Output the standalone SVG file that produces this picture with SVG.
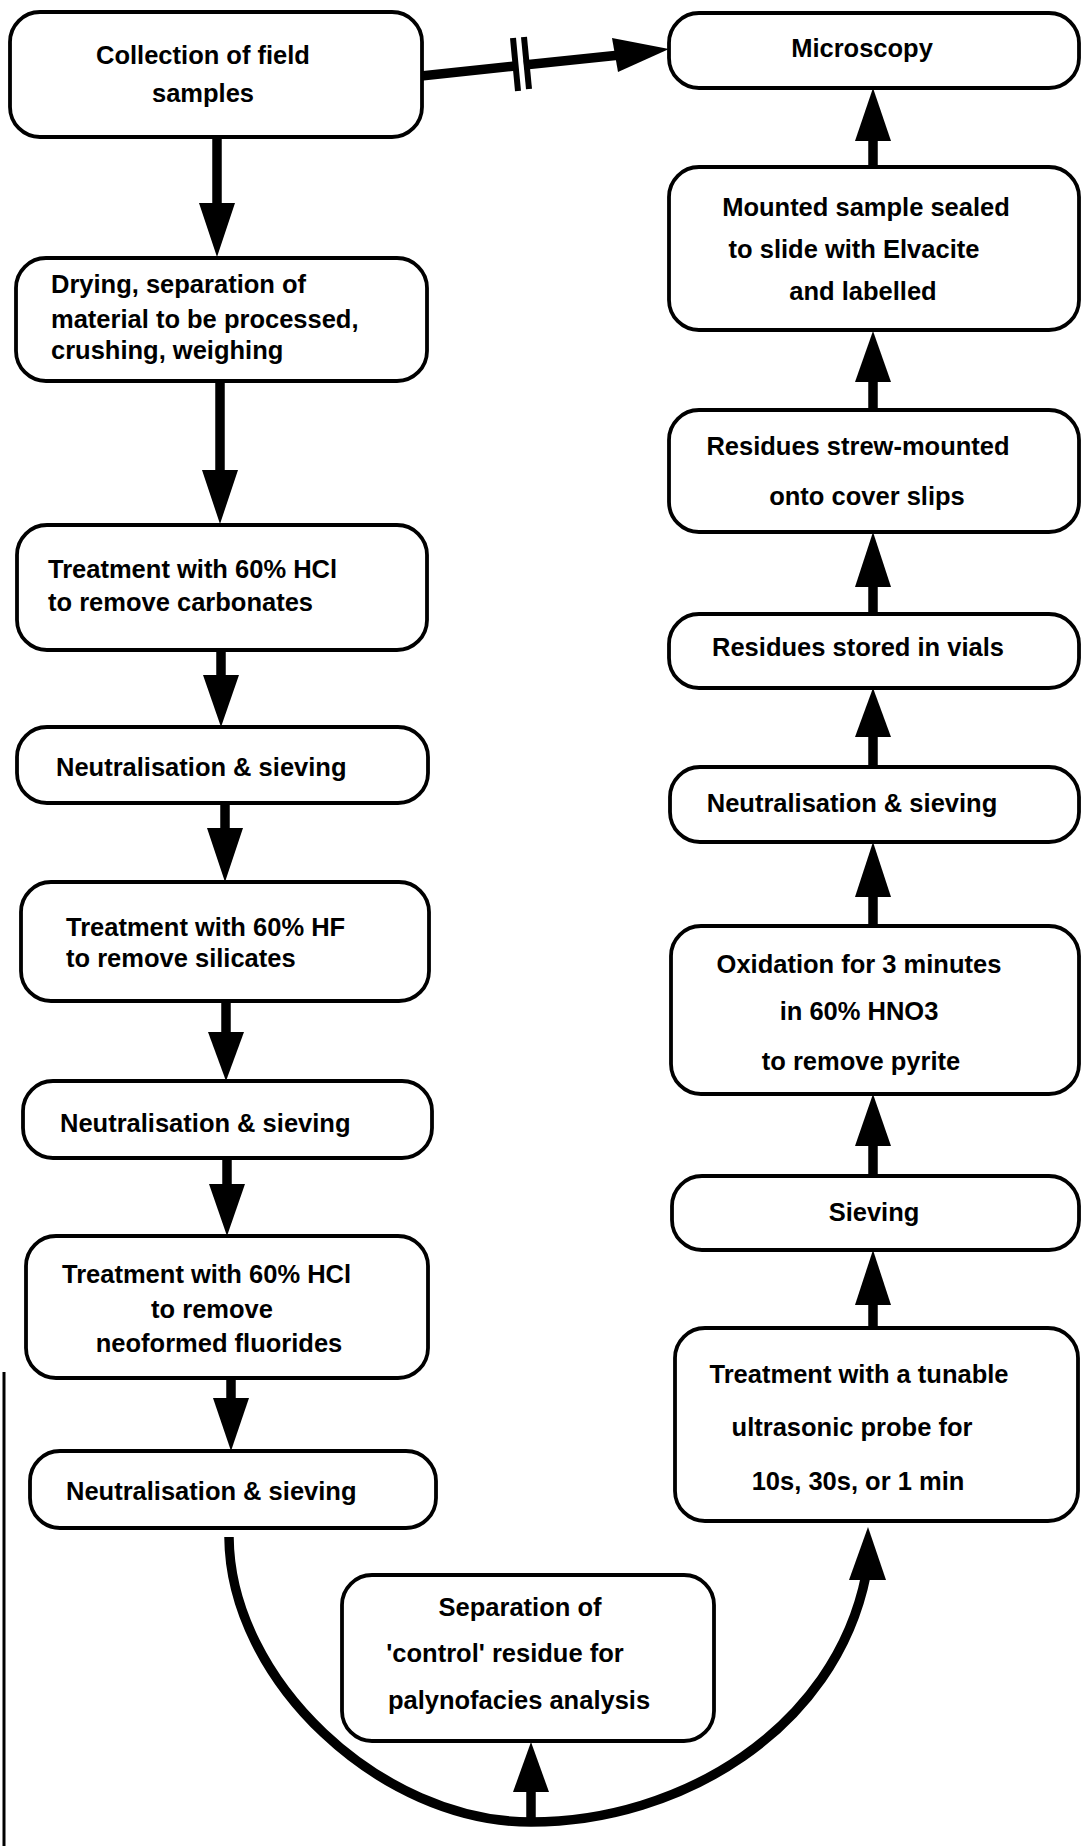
<svg xmlns="http://www.w3.org/2000/svg" width="1084" height="1846" viewBox="0 0 1084 1846">
<style>
.box{fill:#fff;stroke:#000;stroke-width:3.8}
.t{font-family:"Liberation Sans",Arial,Helvetica,sans-serif;font-weight:bold;font-size:25.5px;fill:#000}
.m{text-anchor:middle}
.shaft{stroke:#000;stroke-width:9.5;fill:none}
.head{fill:#000;stroke:none}
</style>
<rect width="1084" height="1846" fill="#fff"/>
<g id="connectors">
<line class="shaft" x1="421" y1="76" x2="515" y2="66" stroke-width="9"/>
<line class="shaft" x1="524" y1="65" x2="620" y2="55" stroke-width="8"/>
<line x1="513" y1="38" x2="518" y2="91" stroke="#000" stroke-width="6"/>
<line x1="524" y1="37" x2="529" y2="89" stroke="#000" stroke-width="6"/>
<polygon class="head" points="612,38 669,49 618,72"/>
<line class="shaft" x1="217" y1="137" x2="217" y2="206"/>
<polygon class="head" points="199,203 235,203 217,257"/>
<line class="shaft" x1="220" y1="381" x2="220" y2="473"/>
<polygon class="head" points="202,470 238,470 220,524"/>
<line class="shaft" x1="221" y1="650" x2="221" y2="678"/>
<polygon class="head" points="203,675 239,675 221,727"/>
<line class="shaft" x1="225" y1="803" x2="225" y2="831"/>
<polygon class="head" points="207,828 243,828 225,882"/>
<line class="shaft" x1="226" y1="1001" x2="226" y2="1035"/>
<polygon class="head" points="208,1032 244,1032 226,1081"/>
<line class="shaft" x1="227" y1="1158" x2="227" y2="1187"/>
<polygon class="head" points="209,1184 245,1184 227,1236"/>
<line class="shaft" x1="231" y1="1378" x2="231" y2="1401"/>
<polygon class="head" points="213,1398 249,1398 231,1451"/>
<line class="shaft" x1="873" y1="167" x2="873" y2="138"/>
<polygon class="head" points="855,141 891,141 873,88"/>
<line class="shaft" x1="873" y1="410" x2="873" y2="379"/>
<polygon class="head" points="855,382 891,382 873,331"/>
<line class="shaft" x1="873" y1="614" x2="873" y2="584"/>
<polygon class="head" points="855,587 891,587 873,532"/>
<line class="shaft" x1="873" y1="767" x2="873" y2="734"/>
<polygon class="head" points="855,737 891,737 873,688"/>
<line class="shaft" x1="873" y1="926" x2="873" y2="894"/>
<polygon class="head" points="855,897 891,897 873,842"/>
<line class="shaft" x1="873" y1="1176" x2="873" y2="1143"/>
<polygon class="head" points="855,1146 891,1146 873,1094"/>
<line class="shaft" x1="873" y1="1328" x2="873" y2="1302"/>
<polygon class="head" points="855,1305 891,1305 873,1250"/>
<path class="shaft" d="M 229 1537 C 230 1680, 380 1822, 531 1822 C 680 1822, 835 1730, 866 1575" stroke-width="9"/>
<polygon class="head" points="868,1527 849,1580 886,1580"/>
<line class="shaft" x1="531" y1="1822" x2="531" y2="1789"/>
<polygon class="head" points="513,1792 549,1792 531,1742"/>
<line x1="4" y1="1372" x2="4" y2="1846" stroke="#000" stroke-width="3"/>
</g>
<g id="n1"><rect class="box" x="10" y="12" width="412" height="125" rx="30"/>
<text class="t m" x="203" y="64">Collection of field</text><text class="t m" x="203" y="102">samples</text></g>
<g id="n2"><rect class="box" x="16" y="258" width="411" height="123" rx="30"/>
<text class="t" x="51" y="293">Drying, separation of</text><text class="t" x="51" y="328">material to be processed,</text><text class="t" x="51" y="359">crushing, weighing</text></g>
<g id="n3"><rect class="box" x="17" y="525" width="410" height="125" rx="30"/>
<text class="t" x="48" y="578">Treatment with 60% HCl</text><text class="t" x="48" y="611">to remove carbonates</text></g>
<g id="n4"><rect class="box" x="17" y="727" width="411" height="76" rx="30"/>
<text class="t" x="56" y="776">Neutralisation &amp; sieving</text></g>
<g id="n5"><rect class="box" x="21" y="882" width="408" height="119" rx="30"/>
<text class="t" x="66" y="936">Treatment with 60% HF</text><text class="t" x="66" y="967">to remove silicates</text></g>
<g id="n6"><rect class="box" x="23" y="1081" width="409" height="77" rx="30"/>
<text class="t" x="60" y="1132">Neutralisation &amp; sieving</text></g>
<g id="n7"><rect class="box" x="26" y="1236" width="402" height="142" rx="30"/>
<text class="t" x="62" y="1283">Treatment with 60% HCl</text><text class="t m" x="212" y="1318">to remove</text><text class="t m" x="219" y="1352">neoformed fluorides</text></g>
<g id="n8"><rect class="box" x="30" y="1451" width="406" height="77" rx="30"/>
<text class="t" x="66" y="1500">Neutralisation &amp; sieving</text></g>
<g id="r1"><rect class="box" x="669" y="13" width="410" height="75" rx="30"/>
<text class="t m" x="862" y="57">Microscopy</text></g>
<g id="r2"><rect class="box" x="669" y="167" width="410" height="163" rx="30"/>
<text class="t m" x="866" y="216">Mounted sample sealed</text><text class="t m" x="854" y="258">to slide with Elvacite</text><text class="t m" x="863" y="300">and labelled</text></g>
<g id="r3"><rect class="box" x="669" y="410" width="410" height="122" rx="30"/>
<text class="t m" x="858" y="455">Residues strew-mounted</text><text class="t m" x="867" y="505">onto cover slips</text></g>
<g id="r4"><rect class="box" x="669" y="614" width="410" height="74" rx="30"/>
<text class="t m" x="858" y="656">Residues stored in vials</text></g>
<g id="r5"><rect class="box" x="670" y="767" width="409" height="75" rx="30"/>
<text class="t m" x="852" y="812">Neutralisation &amp; sieving</text></g>
<g id="r6"><rect class="box" x="671" y="926" width="408" height="168" rx="30"/>
<text class="t m" x="859" y="973">Oxidation for 3 minutes</text><text class="t m" x="859" y="1020">in 60% HNO3</text><text class="t m" x="861" y="1070">to remove pyrite</text></g>
<g id="r7"><rect class="box" x="672" y="1176" width="407" height="74" rx="30"/>
<text class="t m" x="874" y="1221">Sieving</text></g>
<g id="r8"><rect class="box" x="675" y="1328" width="403" height="193" rx="30"/>
<text class="t m" x="859" y="1383">Treatment with a tunable</text><text class="t m" x="852" y="1436">ultrasonic probe for</text><text class="t m" x="858" y="1490">10s, 30s, or 1 min</text></g>
<g id="mid"><rect class="box" x="342" y="1575" width="372" height="166" rx="30"/>
<text class="t m" x="520" y="1616">Separation of</text><text class="t m" x="505" y="1662">'control' residue for</text><text class="t m" x="519" y="1709">palynofacies analysis</text></g>
</svg>
